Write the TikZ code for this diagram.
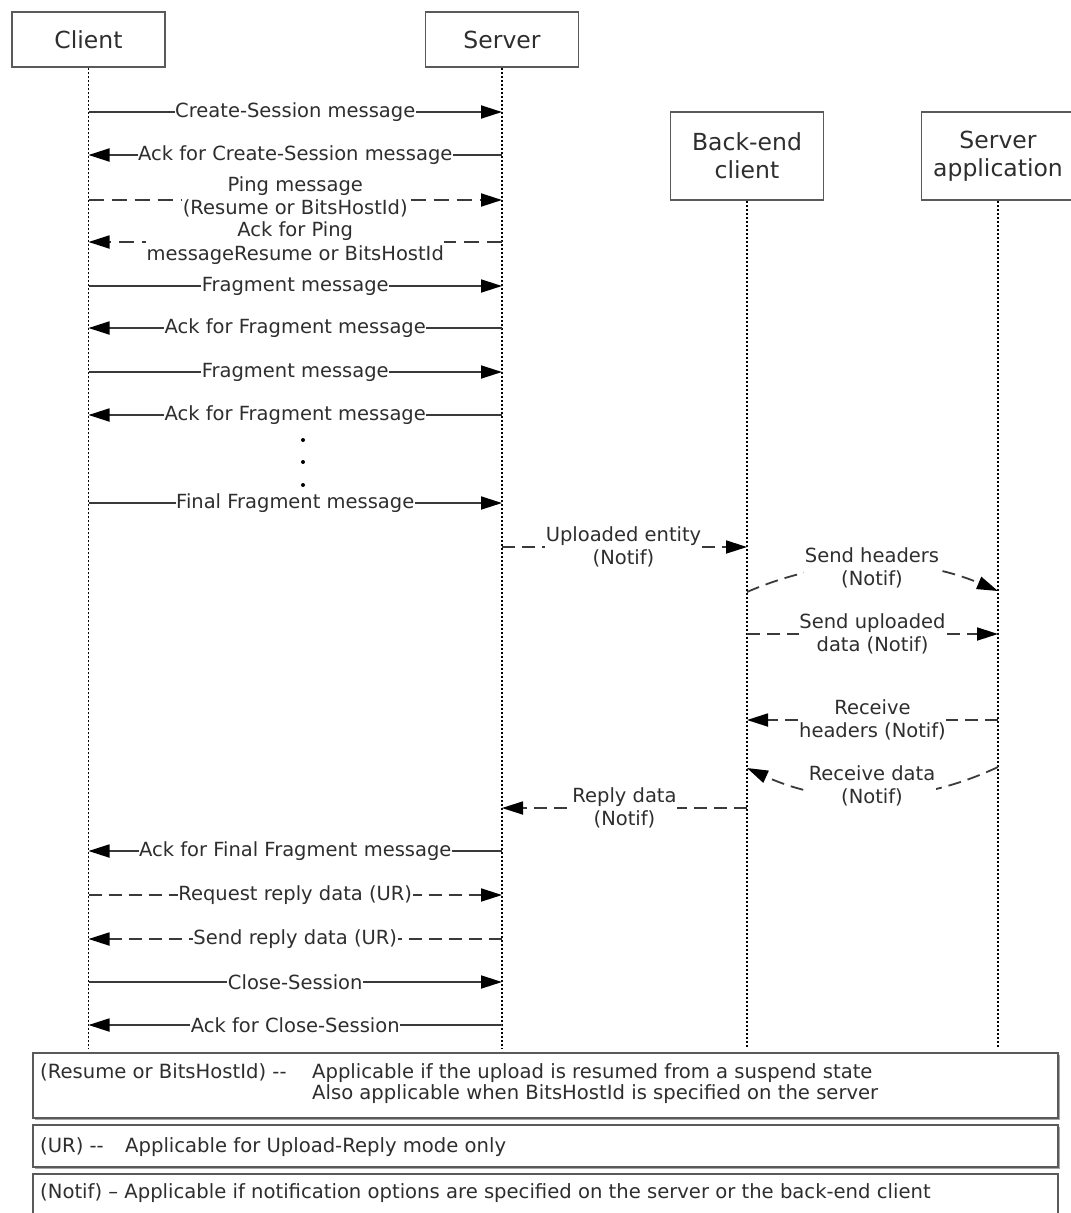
\documentclass[tikz,border=0pt]{standalone}
\usepackage{fontspec}
\setmainfont{DejaVu Sans}
\usetikzlibrary{arrows.meta}
\definecolor{ln}{HTML}{3A3A3A}
\definecolor{tx}{HTML}{2E2E2E}
\definecolor{bx}{HTML}{5A5A5A}
\begin{document}
\begin{tikzpicture}[x=1pt,y=-1pt,
  actor/.style={draw=bx, line width=1.6pt, fill=white, minimum width=153pt, text=tx,
     align=center, font=\fontsize{23.5}{28}\selectfont, inner sep=0pt},
  life/.style={draw=black, line width=1.3pt, dash pattern=on 2pt off 2pt},
  tip/.style={-{Triangle[length=21pt,width=13pt,color=black]}},
  smsg/.style={draw=ln, line width=1.8pt, tip},
  dmsg/.style={draw=ln, line width=1.8pt, tip, dash pattern=on 13pt off 7pt},
  lbl/.style={fill=white, inner sep=0.5pt, align=center, text=tx,
     font=\fontsize{19.5}{23.5}\selectfont},
  note/.style={draw=bx, line width=1.8pt, fill=white},
  shadow/.style={draw=gray!70, line width=1.5pt},
  notetext/.style={inner sep=0pt, anchor=west, align=left, text=tx,
     font=\fontsize{19.6}{21}\selectfont},
  dot/.style={fill=black, circle, inner sep=0pt, minimum size=4pt}]
\useasboundingbox (0,0) rectangle (1071,1213);
% actors
\node[actor, minimum height=55pt] (client) at (88.5,39.5) {Client};
\node[actor, minimum height=55pt] (server) at (502,39.5) {Server};
\node[actor, minimum height=88pt] (bec) at (747,156) {Back-end\\client};
\node[actor, minimum height=88pt] (app) at (998,156) {Server\\application};
% lifeline ends
\coordinate (clientend) at (client.south |- 0,1048);
\coordinate (serverend) at (server.south |- 0,1048);
\coordinate (becend) at (bec.south |- 0,1048);
\coordinate (append) at (app.south |- 0,1048);
\draw[life] (client.south) -- (clientend);
\draw[life] (server.south) -- (serverend);
\draw[life] (bec.south) -- (becend);
\draw[life] (app.south) -- (append);
% message anchor points
\foreach \n/\y in {1/112,2/155,3/200,4/242,5/286,6/328,7/372,8/415,9/503,16/851,17/895,18/939,19/982,20/1025}{
  \coordinate (c\n) at (client.south |- 0,\y);
  \coordinate (s\n) at (server.south |- 0,\y);
}
\coordinate (s10) at (server.south |- 0,547);
\coordinate (b10) at (bec.south |- 0,547);
\coordinate (b11) at (bec.south |- 0,592);
\coordinate (a11) at (app.south |- 0,591);
\coordinate (b12) at (bec.south |- 0,634);
\coordinate (a12) at (app.south |- 0,634);
\coordinate (a13) at (app.south |- 0,720);
\coordinate (b13) at (bec.south |- 0,720);
\coordinate (a14) at (app.south |- 0,767);
\coordinate (b14) at (bec.south |- 0,768);
\coordinate (b15) at (bec.south |- 0,808);
\coordinate (s15) at (server.south |- 0,808);
% messages
\draw[smsg] (c1) -- node[lbl]{Create-Session message} (s1);
\draw[smsg] (s2) -- node[lbl]{Ack for Create-Session message} (c2);
\draw[dmsg, dash pattern=on 15pt off 8pt] (c3) -- node[lbl, yshift=3pt]{Ping message\\(Resume or BitsHostId)} (s3);
\draw[dmsg, dash pattern=on 15pt off 8pt] (s4) -- node[lbl, yshift=-1pt]{Ack for Ping\\messageResume or BitsHostId} (c4);
\draw[smsg] (c5) -- node[lbl]{Fragment message} (s5);
\draw[smsg] (s6) -- node[lbl]{Ack for Fragment message} (c6);
\draw[smsg] (c7) -- node[lbl]{Fragment message} (s7);
\draw[smsg] (s8) -- node[lbl]{Ack for Fragment message} (c8);
\node[dot] (d1) at (303,440) {};
\node[dot] (d2) at (303,462) {};
\node[dot] (d3) at (303,485) {};
\draw[smsg] (c9) -- node[lbl]{Final Fragment message} (s9);
\draw[dmsg] (s10) -- node[lbl, xshift=-1pt]{Uploaded entity\\(Notif)} (b10);
\draw[dmsg] (b11) .. controls (830,556) and (915,556) .. (a11);
\node[lbl] (l11) at (872,568) {Send headers\\(Notif)};
\draw[dmsg] (b12) -- node[lbl]{Send uploaded\\data (Notif)} (a12);
\draw[dmsg] (a13) -- node[lbl]{Receive\\headers (Notif)} (b13);
\draw[dmsg] (a14) .. controls (915,806) and (830,806) .. (b14);
\node[lbl] (l14) at (872,786) {Receive data\\(Notif)};
\draw[dmsg] (b15) -- node[lbl]{Reply data\\(Notif)} (s15);
\draw[smsg] (s16) -- node[lbl]{Ack for Final Fragment message} (c16);
\draw[dmsg] (c17) -- node[lbl]{Request reply data (UR)} (s17);
\draw[dmsg] (s18) -- node[lbl]{Send reply data (UR)} (c18);
\draw[smsg] (c19) -- node[lbl]{Close-Session} (s19);
\draw[smsg] (s20) -- node[lbl]{Ack for Close-Session} (c20);
% notes
\draw[shadow] (35,1119.5) -- (1059.5,1119.5) -- (1059.5,1055);
\draw[note] (33,1053) rectangle (1058,1118);
\node[notetext] (n1) at (40,1083.5) {\makebox[272pt][l]{(Resume or BitsHostId) -{}-}Applicable if the upload is resumed from a suspend state\\\makebox[272pt][l]{}Also applicable when BitsHostId is specified on the server};
\draw[shadow] (35,1168.5) -- (1059.5,1168.5) -- (1059.5,1127);
\draw[note] (33,1125) rectangle (1058,1167);
\node[notetext] (n2) at (40,1147) {\makebox[85pt][l]{(UR) -{}-}Applicable for Upload-Reply mode only};
\draw[note] (33,1174) rectangle (1058,1225);
\node[notetext] (n3) at (40,1193) {(Notif) – Applicable if notification options are specified on the server or the back-end client};
\end{tikzpicture}
\end{document}
